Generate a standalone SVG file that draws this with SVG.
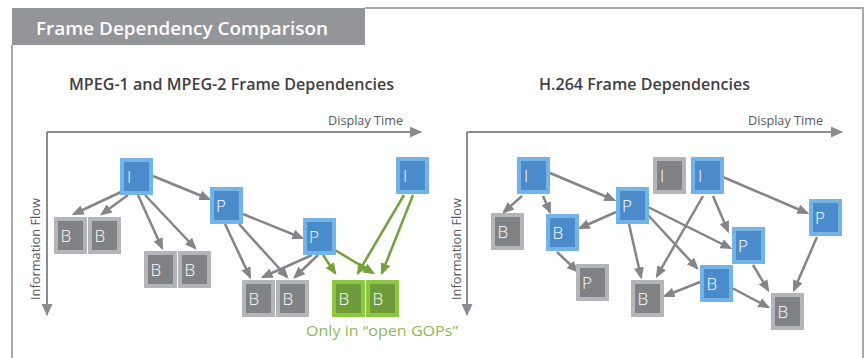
<svg xmlns="http://www.w3.org/2000/svg" width="866" height="358" viewBox="0 0 866 358">
<defs>
<style>
.frame{fill:none;stroke:#a7a9ac;stroke-width:2}
.hdr{fill:#939598}
.htxt{font-family:"Open Sans","Liberation Sans",sans-serif;font-weight:600;font-size:18px;fill:#ffffff}
.sub{font-family:"Open Sans","Liberation Sans",sans-serif;font-weight:600;font-size:15.5px;fill:#414042}
.axl{font-family:"Open Sans","Liberation Sans",sans-serif;font-size:13px;fill:#58595b}
.axis{stroke:#8a8b8e;stroke-width:2;fill:none}
.e{stroke:#858589;stroke-width:2.5;fill:none}
.g{stroke:#76a03c;stroke-width:2.5;fill:none}
.ob{fill:#74b3e6}.ib{fill:#4a8ccb}
.og{fill:#b3b5b8}.ig{fill:#818285}
.on{fill:#8dc63f}.in{fill:#6f9c3a}
.lt{font-family:"Open Sans","Liberation Sans",sans-serif;font-weight:300;font-size:17px;fill:#ffffff}
.gl{font-family:"Open Sans","Liberation Sans",sans-serif;font-size:14px;fill:#8cb85a}
</style>
<marker id="ah" markerUnits="userSpaceOnUse" markerWidth="12" markerHeight="10" refX="9.5" refY="5" orient="auto"><path d="M0,0 L12,5 L0,10 Z" fill="#858589"/></marker>
<marker id="ahg" markerUnits="userSpaceOnUse" markerWidth="12" markerHeight="10" refX="9.5" refY="5" orient="auto"><path d="M0,0 L12,5 L0,10 Z" fill="#76a03c"/></marker>
<marker id="ax" markerUnits="userSpaceOnUse" markerWidth="12" markerHeight="11" refX="11" refY="5.5" orient="auto"><path d="M0,0 L12,5.5 L0,11 Z" fill="#8a8b8e"/></marker>
</defs>
<rect x="0" y="0" width="866" height="358" fill="#ffffff"/>
<g id="panel">
<path class="frame" d="M12,45 V362 M365,8 H863 V362"/>
<rect class="hdr" x="12" y="8" width="353" height="37"/>
<text class="htxt" x="36" y="35" textLength="292" lengthAdjust="spacingAndGlyphs">Frame Dependency Comparison</text>
<text class="sub" x="69" y="90" textLength="325" lengthAdjust="spacingAndGlyphs">MPEG-1 and MPEG-2 Frame Dependencies</text>
<text class="sub" x="539" y="90" textLength="211" lengthAdjust="spacingAndGlyphs">H.264 Frame Dependencies</text>
</g>
<g id="axes">
<path class="axis" d="M47,132 H421" marker-end="url(#ax)"/>
<path class="axis" d="M47,132 V315" marker-end="url(#ax)"/>
<path class="axis" d="M467,132 H842" marker-end="url(#ax)"/>
<path class="axis" d="M467,132 V315" marker-end="url(#ax)"/>
<text class="axl" x="328" y="125" textLength="75" lengthAdjust="spacingAndGlyphs">Display Time</text>
<text class="axl" x="748" y="125" textLength="75" lengthAdjust="spacingAndGlyphs">Display Time</text>
<text class="axl" transform="translate(40,300) rotate(-90)" textLength="102" lengthAdjust="spacingAndGlyphs">Information Flow</text>
<text class="axl" transform="translate(461,300) rotate(-90)" textLength="102" lengthAdjust="spacingAndGlyphs">Information Flow</text>
</g>
<g id="connectors">
<path class="e" d="M121,192 L74,214" marker-end="url(#ah)"/>
<path class="e" d="M128,195 L102,214" marker-end="url(#ah)"/>
<path class="e" d="M138,195 L162,248" marker-end="url(#ah)"/>
<path class="e" d="M145,195 L195,248" marker-end="url(#ah)"/>
<path class="e" d="M153,176 L209,199" marker-end="url(#ah)"/>
<path class="e" d="M243,214 L302,238" marker-end="url(#ah)"/>
<path class="e" d="M225,224 L250,277" marker-end="url(#ah)"/>
<path class="e" d="M239,224 L287,277" marker-end="url(#ah)"/>
<path class="e" d="M312,255 L263,277" marker-end="url(#ah)"/>
<path class="e" d="M318,255 L295,277" marker-end="url(#ah)"/>
<path class="g" d="M323,255 L335,273" marker-end="url(#ahg)"/>
<path class="g" d="M335,250 L373,273" marker-end="url(#ahg)"/>
<path class="g" d="M404,195 L358,273" marker-end="url(#ahg)"/>
<path class="g" d="M413,195 L382,273" marker-end="url(#ahg)"/>
<path class="e" d="M522,196 L504,212" marker-end="url(#ah)"/>
<path class="e" d="M543,196 L550,212" marker-end="url(#ah)"/>
<path class="e" d="M550,173 L614,200" marker-end="url(#ah)"/>
<path class="e" d="M616,212 L580,228" marker-end="url(#ah)"/>
<path class="e" d="M557,252 L577,271" marker-end="url(#ah)"/>
<path class="e" d="M629,224 L641,277" marker-end="url(#ah)"/>
<path class="e" d="M648,207 L730,248" marker-end="url(#ah)"/>
<path class="e" d="M648,215 L697,268" marker-end="url(#ah)"/>
<path class="e" d="M703,196 L657,276" marker-end="url(#ah)"/>
<path class="e" d="M700,282 L665,296" marker-end="url(#ah)"/>
<path class="e" d="M713,196 L728,231" marker-end="url(#ah)"/>
<path class="e" d="M723,177 L807,213" marker-end="url(#ah)"/>
<path class="e" d="M753,265 L768,290" marker-end="url(#ah)"/>
<path class="e" d="M732,288 L768,307" marker-end="url(#ah)"/>
<path class="e" d="M817,237 L794,290" marker-end="url(#ah)"/>
</g>
<g id="L_I1"><rect class="ob" x="120" y="158" width="33" height="37"/><rect class="ib" x="124" y="162" width="25" height="29"/><text class="lt" x="127" y="182.5">I</text></g>
<g id="L_B1"><rect class="og" x="54" y="217" width="33" height="37"/><rect class="ig" x="58" y="221" width="25" height="29"/><text class="lt" x="60.5" y="241.5">B</text></g>
<g id="L_B2"><rect class="og" x="88" y="217" width="33" height="37"/><rect class="ig" x="92" y="221" width="25" height="29"/><text class="lt" x="94.5" y="241.5">B</text></g>
<g id="L_B3"><rect class="og" x="144" y="251" width="33" height="37"/><rect class="ig" x="148" y="255" width="25" height="29"/><text class="lt" x="150.5" y="275.5">B</text></g>
<g id="L_B4"><rect class="og" x="178" y="251" width="33" height="37"/><rect class="ig" x="182" y="255" width="25" height="29"/><text class="lt" x="184.5" y="275.5">B</text></g>
<g id="L_P1"><rect class="ob" x="210" y="187" width="33" height="37"/><rect class="ib" x="214" y="191" width="25" height="29"/><text class="lt" x="216" y="211.5">P</text></g>
<g id="L_P2"><rect class="ob" x="303" y="218" width="33" height="37"/><rect class="ib" x="307" y="222" width="25" height="29"/><text class="lt" x="309" y="242.5">P</text></g>
<g id="L_I2"><rect class="ob" x="396" y="157" width="33" height="37"/><rect class="ib" x="400" y="161" width="25" height="29"/><text class="lt" x="403" y="181.5">I</text></g>
<g id="L_B5"><rect class="og" x="242" y="280" width="33" height="37"/><rect class="ig" x="246" y="284" width="25" height="29"/><text class="lt" x="248.5" y="304.5">B</text></g>
<g id="L_B6"><rect class="og" x="276" y="280" width="33" height="37"/><rect class="ig" x="280" y="284" width="25" height="29"/><text class="lt" x="282.5" y="304.5">B</text></g>
<g id="L_B7"><rect class="on" x="332" y="280" width="33" height="37"/><rect class="in" x="336" y="284" width="25" height="29"/><text class="lt" x="338.5" y="304.5">B</text></g>
<g id="L_B8"><rect class="on" x="366" y="280" width="33" height="37"/><rect class="in" x="370" y="284" width="25" height="29"/><text class="lt" x="372.5" y="304.5">B</text></g>
<text class="gl" x="306" y="336" textLength="152" lengthAdjust="spacingAndGlyphs">Only in “open GOPs”</text>
<g id="R_Ia"><rect class="ob" x="517" y="157" width="33" height="37"/><rect class="ib" x="521" y="161" width="25" height="29"/><text class="lt" x="524" y="181.5">I</text></g>
<g id="R_Bg1"><rect class="og" x="491" y="213" width="33" height="37"/><rect class="ig" x="495" y="217" width="25" height="29"/><text class="lt" x="497.5" y="237.5">B</text></g>
<g id="R_Bb1"><rect class="ob" x="546" y="214" width="33" height="37"/><rect class="ib" x="550" y="218" width="25" height="29"/><text class="lt" x="552.5" y="238.5">B</text></g>
<g id="R_Pb1"><rect class="ob" x="616" y="187" width="33" height="37"/><rect class="ib" x="620" y="191" width="25" height="29"/><text class="lt" x="622" y="211.5">P</text></g>
<g id="R_Pg"><rect class="og" x="576" y="264" width="33" height="37"/><rect class="ig" x="580" y="268" width="25" height="29"/><text class="lt" x="582" y="288.5">P</text></g>
<g id="R_Bg2"><rect class="og" x="631" y="280" width="33" height="37"/><rect class="ig" x="635" y="284" width="25" height="29"/><text class="lt" x="637.5" y="304.5">B</text></g>
<g id="R_Ig"><rect class="og" x="653" y="157" width="33" height="37"/><rect class="ig" x="657" y="161" width="25" height="29"/><text class="lt" x="660" y="181.5">I</text></g>
<g id="R_Ib2"><rect class="ob" x="691" y="157" width="33" height="37"/><rect class="ib" x="695" y="161" width="25" height="29"/><text class="lt" x="698" y="181.5">I</text></g>
<g id="R_Pb3"><rect class="ob" x="809" y="199" width="33" height="37"/><rect class="ib" x="813" y="203" width="25" height="29"/><text class="lt" x="815" y="223.5">P</text></g>
<g id="R_Pb2"><rect class="ob" x="732" y="227" width="33" height="37"/><rect class="ib" x="736" y="231" width="25" height="29"/><text class="lt" x="738" y="251.5">P</text></g>
<g id="R_Bb2"><rect class="ob" x="700" y="265" width="33" height="37"/><rect class="ib" x="704" y="269" width="25" height="29"/><text class="lt" x="706.5" y="289.5">B</text></g>
<g id="R_Bg3"><rect class="og" x="771" y="293" width="33" height="37"/><rect class="ig" x="775" y="297" width="25" height="29"/><text class="lt" x="777.5" y="317.5">B</text></g>
</svg>
